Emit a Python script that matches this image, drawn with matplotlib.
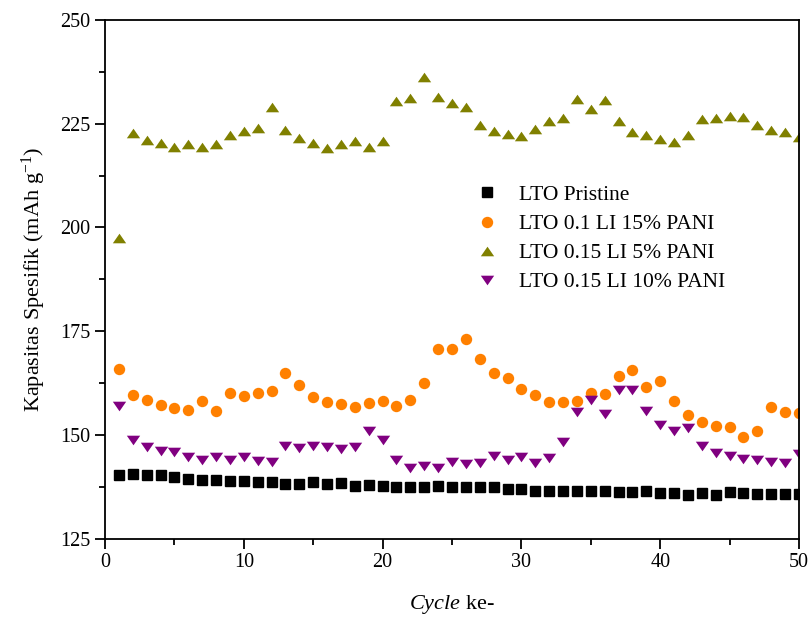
import matplotlib
matplotlib.use("Agg")
import matplotlib.pyplot as plt
from matplotlib.ticker import MultipleLocator

plt.rcParams["font.family"] = ["Liberation Serif", "DejaVu Serif"]
plt.rcParams["mathtext.fontset"] = "custom"
plt.rcParams["mathtext.rm"] = "Liberation Serif"
plt.rcParams["mathtext.it"] = "Liberation Serif:italic"

cycles = list(range(1, 51))

lto_pristine = [
    140.4, 140.6, 140.3, 140.2, 139.9, 139.4, 139.2, 139.2, 138.8, 138.9,
    138.7, 138.6, 138.2, 138.1, 138.6, 138.1, 138.4, 137.6, 137.9, 137.6,
    137.5, 137.5, 137.5, 137.7, 137.5, 137.3, 137.3, 137.3, 136.9, 137.0,
    136.5, 136.5, 136.4, 136.4, 136.4, 136.5, 136.2, 136.1, 136.4, 136.0,
    136.0, 135.6, 136.0, 135.6, 136.2, 136.0, 135.7, 135.8, 135.8, 135.7,
]

lto_01_li_15_pani = [
    165.8, 159.7, 158.3, 157.3, 156.4, 155.9, 158.2, 155.7, 160.1, 159.3,
    160.0, 160.5, 164.8, 162.1, 159.0, 158.0, 157.4, 156.8, 157.6, 158.2,
    157.0, 158.4, 162.5, 170.8, 170.7, 173.2, 168.2, 164.8, 163.6, 161.0,
    159.7, 157.9, 157.8, 158.2, 160.1, 159.8, 164.2, 165.6, 161.6, 163.0,
    158.2, 154.8, 153.0, 152.2, 151.8, 149.4, 150.8, 156.6, 155.6, 155.2,
]

lto_015_li_5_pani = [
    197.5, 222.7, 221.1, 220.3, 219.3, 220.0, 219.5, 220.0, 222.2, 223.2,
    224.0, 229.1, 223.5, 221.5, 220.4, 219.2, 220.1, 220.9, 219.3, 220.8,
    230.4, 231.2, 236.2, 231.5, 229.9, 229.1, 224.6, 223.2, 222.5, 222.0,
    223.8, 225.6, 226.4, 230.9, 228.5, 230.6, 225.7, 223.1, 222.3, 221.3,
    220.7, 222.3, 226.1, 226.3, 226.9, 226.7, 224.7, 223.6, 223.0, 221.9,
]

lto_015_li_10_pani = [
    156.9, 148.8, 147.1, 146.0, 145.8, 144.6, 144.0, 144.6, 143.9, 144.7,
    143.8, 143.4, 147.4, 146.9, 147.4, 147.1, 146.6, 147.1, 150.8, 148.8,
    144.0, 142.0, 142.4, 141.9, 143.5, 143.0, 143.2, 145.0, 143.9, 144.7,
    143.2, 144.3, 148.2, 155.4, 158.5, 155.0, 160.9, 160.9, 155.8, 152.4,
    150.8, 151.6, 147.2, 145.6, 145.0, 144.2, 143.9, 143.5, 143.1, 145.4,
]

labels = [
    "LTO Pristine",
    "LTO 0.1 LI 15% PANI",
    "LTO 0.15 LI 5% PANI",
    "LTO 0.15 LI 10% PANI",
]

# Flattened triangles, wider than they are tall
tri_up = [(-1.0, -0.72), (1.0, -0.72), (0.0, 0.72), (-1.0, -0.72)]
tri_down = [(-1.0, 0.72), (1.0, 0.72), (0.0, -0.72), (-1.0, 0.72)]

fig = plt.figure(figsize=(8.09, 6.19), dpi=100)
ax = fig.add_axes([105 / 809, 1 - 538.5 / 619, 694 / 809, 518.5 / 619])

ax.plot(cycles, lto_pristine, linestyle="none", marker="s", markersize=7.3,
        color="black", label=labels[0])
ax.plot(cycles, lto_01_li_15_pani, linestyle="none", marker="o", markersize=8.2,
        color="#FF8000", markeredgewidth=0, label=labels[1])
ax.plot(cycles, lto_015_li_5_pani, linestyle="none", marker=tri_up, markersize=9.6,
        color="#808000", markeredgewidth=0, label=labels[2])
ax.plot(cycles, lto_015_li_10_pani, linestyle="none", marker=tri_down, markersize=9.6,
        color="#800080", markeredgewidth=0, label=labels[3])

ax.set_xlim(0, 50)
ax.set_ylim(125, 250)
ax.xaxis.set_major_locator(MultipleLocator(10))
ax.xaxis.set_minor_locator(MultipleLocator(5))
ax.yaxis.set_major_locator(MultipleLocator(25))
ax.yaxis.set_minor_locator(MultipleLocator(12.5))

for side in ax.spines.values():
    side.set_linewidth(1.3)

ax.tick_params(which="both", direction="out", top=False, right=False,
               width=1.3, labelsize=14.5, colors="black")
ax.tick_params(which="major", length=7)
ax.tick_params(which="minor", length=4.5)

ax.set_xlabel(r"$\mathit{Cycle}$ ke-", fontsize=16, labelpad=15)
ax.set_ylabel(r"Kapasitas Spesifik (mAh g$^{\mathregular{-1}}$)", fontsize=16,
              labelpad=9)

ax.legend(loc="upper left", bbox_to_anchor=(0.52, 0.682), frameon=False,
          fontsize=15.5, borderpad=0, borderaxespad=0, handletextpad=0.45,
          labelspacing=0.42, handlelength=2.0)

fig.savefig("out.png", dpi=100)
